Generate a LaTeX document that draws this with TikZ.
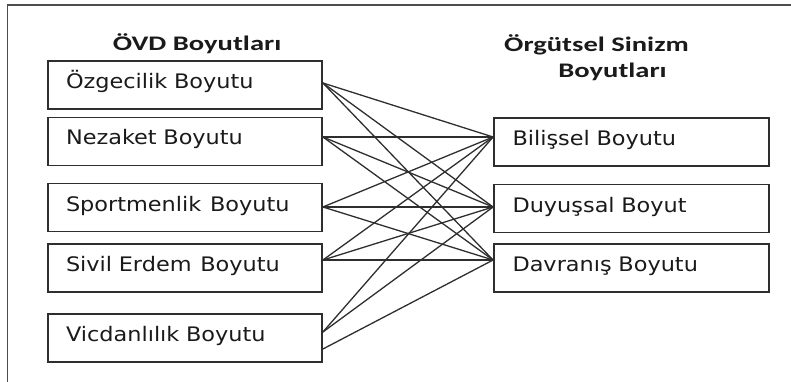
\documentclass[tikz,border=0pt]{standalone}
\usepackage{fontspec}
\newfontfamily\boxfont[FakeStretch=1.12]{DejaVu Sans}
\newfontfamily\headfont[FakeStretch=1.38]{Carlito}
\definecolor{linegray}{HTML}{2E2E2E}
\definecolor{textdark}{HTML}{1A1A1A}
\tikzset{
  dimbox/.style={draw=linegray, line width=1.8pt, rectangle, minimum height=48pt,
    inner xsep=18pt, inner ysep=0pt, text height=11pt, text depth=4pt,
    align=left, font=\boxfont\fontsize{20}{24}\selectfont, text=textdark},
  leftbox/.style={dimbox, minimum width=274pt, text width=238pt},
  rightbox/.style={dimbox, minimum width=275pt, text width=238pt},
  header/.style={font=\headfont\bfseries\fontsize{20.7}{24}\selectfont, text=textdark, inner sep=0pt, anchor=base},
  link/.style={draw=linegray, line width=1.3pt},
  frame/.style={draw=linegray!85!white, line width=1.8pt}
}
\begin{document}
\begin{tikzpicture}[x=1pt,y=-1pt]
\useasboundingbox (0,0) rectangle (791,382);
% outer frame (clipped at right and bottom)
\coordinate (fA) at (7.5,382);
\coordinate (fB) at (7.5,5);
\coordinate (fC) at (791,5);
\draw[frame] (fA) -- (fB) -- (fC);

% headers
\node[header] (h1) at (197,51) {ÖVD Boyutları};
\node[header] (h2a) at (596.5,52) {Örgütsel Sinizm};
\node[header] (h2b) at (612.5,77.7) {Boyutları};

% left boxes
\node[leftbox] (o) at (185,85) {Özgecilik Boyutu};
\node[leftbox] (n) at (185,141.5) {Nezaket Boyutu};
\node[leftbox] (s) at (185,207.5) {Sportmenlik\hspace{2pt} Boyutu};
\node[leftbox] (e) at (185,268) {Sivil Erdem\hspace{2pt} Boyutu};
\node[leftbox] (v) at (185,338) {Vicdanlılık Boyutu};

% right boxes
\node[rightbox] (b) at (631.5,142) {Bilişsel Boyutu};
\node[rightbox] (d) at (631.5,208.5) {Duyuşsal Boyut};
\node[rightbox] (r) at (631.5,268) {Davranış Boyutu};

% connection points
\coordinate (oR) at ([yshift=2pt]o.east);
\coordinate (nR) at ([yshift=4.5pt]n.east);
\coordinate (sR) at ([yshift=0.5pt]s.east);
\coordinate (eR) at ([yshift=8pt]e.east);
\coordinate (vR1) at ([yshift=6pt]v.east);
\coordinate (vR2) at ([yshift=-11pt]v.east);
\coordinate (bL) at ([yshift=5pt]b.west);
\coordinate (dL) at ([yshift=1.5pt]d.west);
\coordinate (rL) at ([yshift=8pt]r.west);

% connectors
\foreach \src in {oR,nR,sR,eR} {
  \draw[link] (\src) -- (bL);
  \draw[link] (\src) -- (dL);
  \draw[link] (\src) -- (rL);
}
\draw[link] (vR1) -- (bL);
\draw[link] (vR1) -- (dL);
\draw[link] (vR2) -- (rL);
\end{tikzpicture}
\end{document}
